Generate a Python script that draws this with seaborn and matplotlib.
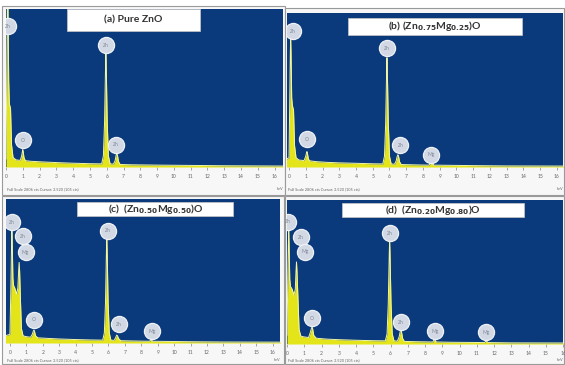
import numpy as np
import pandas as pd
import matplotlib
matplotlib.use("Agg")
import matplotlib.pyplot as plt
from matplotlib.patches import Rectangle
import seaborn as sns

# spectra: energy (keV) and intensity (% of panel height)
energy_a = [0.0, 0.04, 0.08, 0.1, 0.12, 0.16, 0.2, 0.27, 0.33, 0.42, 0.6, 0.85, 0.93, 0.98, 1.0, 1.02, 1.07,
            1.15, 1.5, 2.2, 3.0, 4.0, 5.0, 5.7, 5.8, 5.87, 5.93, 5.95, 5.97, 6.03, 6.1, 6.2, 6.4, 6.5, 6.56,
            6.6, 6.64, 6.7, 6.8, 7.5, 9.0, 11.0, 13.0, 16.5]
counts_a = [5, 50, 100, 118, 100, 55, 40, 37, 14, 6, 4.5, 4.2, 7, 10, 11, 10, 6,
            4, 3.6, 3.2, 2.8, 2.4, 2.1, 2.0, 7, 28, 64, 72, 64, 28, 7, 2.0, 1.8, 4, 7.5,
            8.5, 7.5, 3.5, 1.6, 1.4, 1.2, 1.0, 0.8, 0.6]

energy_b = [-0.2, 0.0, 0.04, 0.08, 0.1, 0.12, 0.16, 0.2, 0.27, 0.33, 0.42, 0.6, 0.9, 1.0, 1.05, 1.07, 1.09,
            1.16, 1.25, 1.6, 2.3, 3.0, 4.0, 5.0, 5.6, 5.7, 5.77, 5.83, 5.85, 5.87, 5.93, 6.0, 6.1, 6.3, 6.4,
            6.46, 6.5, 6.54, 6.6, 6.7, 7.5, 8.35, 8.47, 8.5, 8.53, 8.65, 9.5, 11.0, 13.0, 16.5]
counts_b = [5, 6, 40, 75, 84, 75, 45, 40, 37, 14, 6, 4.5, 4.2, 7, 9.5, 10, 9.5,
            5, 4, 3.5, 3.0, 2.7, 2.4, 2.1, 2.0, 7, 28, 63, 71, 63, 28, 7, 2.0, 1.8, 4,
            7, 8, 7, 3.5, 1.6, 1.4, 1.2, 2.5, 3, 2.5, 1.2, 1.1, 0.9, 0.7, 0.6]

energy_c = [-0.3, 0.0, 0.06, 0.1, 0.12, 0.14, 0.18, 0.22, 0.3, 0.4, 0.48, 0.53, 0.56, 0.59, 0.64, 0.7, 0.8,
            0.95, 1.25, 1.36, 1.43, 1.46, 1.49, 1.56, 1.7, 2.3, 3.0, 4.0, 5.0, 5.65, 5.75, 5.82, 5.88, 5.9,
            5.92, 5.98, 6.05, 6.15, 6.35, 6.45, 6.5, 6.55, 6.62, 6.75, 7.5, 8.5, 8.6, 8.7, 9.5, 11.0, 13.0, 16.5]
counts_c = [5, 6, 40, 70, 78, 70, 45, 40, 38, 34, 38, 50, 56, 50, 30, 10, 5,
            4.5, 4, 6, 8.5, 9, 8.5, 5, 3.6, 3.2, 2.8, 2.4, 2.1, 2.0, 7, 28, 65, 73,
            65, 28, 7, 2.0, 1.8, 4, 5.5, 5, 3, 1.6, 1.4, 1.2, 2.2, 1.2, 1.1, 0.9, 0.7, 0.6]

energy_d = [0.0, 0.04, 0.08, 0.1, 0.12, 0.16, 0.2, 0.3, 0.4, 0.48, 0.52, 0.55, 0.58, 0.64, 0.7, 0.8,
            0.95, 1.25, 1.35, 1.42, 1.45, 1.48, 1.55, 1.7, 2.3, 3.0, 4.0, 5.0, 5.7, 5.8, 5.87, 5.93, 5.95,
            5.97, 6.03, 6.1, 6.2, 6.4, 6.5, 6.57, 6.6, 6.63, 6.7, 6.8, 7.5, 8.45, 8.55, 8.65, 9.5, 11.45,
            11.55, 11.65, 13.0, 16.5]
counts_d = [6, 40, 70, 79, 70, 45, 40, 38, 34, 38, 50, 57, 50, 30, 10, 5.5,
            5, 4.5, 8, 11, 12, 11, 6, 4, 3.4, 3.0, 2.6, 2.3, 2.2, 7, 28, 64, 72,
            64, 28, 7, 2.2, 2.0, 5, 9, 10, 9, 4, 1.8, 1.6, 1.4, 3.2, 1.4, 1.2, 1.0,
            2.2, 1.0, 0.8, 0.7]

# peak labels: element, energy, height of the label circle
labels_a = ["Zn", "O", "Zn", "Zn"]
label_e_a = [0.1, 1.0, 5.95, 6.55]
label_h_a = [89, 17, 77, 14]

labels_b = ["Zn", "O", "Zn", "Zn", "Mg"]
label_e_b = [0.25, 1.05, 5.85, 6.65, 8.5]
label_h_b = [88, 18, 77, 14, 8]

labels_c = ["Zn", "Zn", "Mg", "O", "Zn", "Zn", "Mg"]
label_e_c = [0.1, 0.8, 0.95, 1.46, 5.95, 6.65, 8.65]
label_h_c = [84, 74, 63, 16, 78, 13, 8]

labels_d = ["Zn", "Zn", "Mg", "O", "Zn", "Zn", "Mg", "Mg"]
label_e_d = [0.05, 0.8, 1.05, 1.45, 5.95, 6.6, 8.6, 11.55]
label_h_d = [85, 74, 64, 18, 77, 15, 9, 8]

titles = ["(a) Pure ZnO",
          r"(b) (Zn$_{\mathbf{0.75}}$Mg$_{\mathbf{0.25}}$)O",
          r"(c)  (Zn$_{\mathbf{0.50}}$Mg$_{\mathbf{0.50}}$)O",
          r"(d)  (Zn$_{\mathbf{0.20}}$Mg$_{\mathbf{0.80}}$)O"]
footer = "Full Scale 2806 cts Cursor: 2.520 (105 cts)"

BLUE = "#0b3a7c"
YELLOW = "#e4e41a"
LINE = "#f2f6a8"

sns.set_theme(style="white")
plt.rcParams["font.family"] = ["Lato", "DejaVu Sans"]

W, H = 565, 365
fig = plt.figure(figsize=(W / 100, H / 100), dpi=100)
fig.patch.set_facecolor("white")


def px_rect(x0, y0, x1, y1):
    return [x0 / W, 1 - y1 / H, (x1 - x0) / W, (y1 - y0) / H]


def draw_panel(rect, xlim, energy, counts, labels, lab_e, lab_h, title, box, frame, foot_y):
    # light frame round the whole panel incl. tick strip
    fx0, fy0, fx1, fy1 = frame
    fig.patches.append(Rectangle((fx0 / W, 1 - fy1 / H), (fx1 - fx0) / W, (fy1 - fy0) / H,
                                 transform=fig.transFigure, facecolor="#f7f7f7",
                                 edgecolor="#9a9a9a", lw=0.8, zorder=-5))
    ax = fig.add_axes(px_rect(*rect))
    ax.set_zorder(1)
    ax.set_facecolor(BLUE)
    df = pd.DataFrame({"energy": energy, "counts": counts})
    ax.fill_between(df["energy"], df["counts"], color=YELLOW, lw=0, zorder=2)
    sns.lineplot(data=df, x="energy", y="counts", ax=ax, color=LINE, lw=0.7, zorder=3)
    ax.set_xlim(*xlim)
    ax.set_ylim(0, 100)
    ax.set_xticks(range(0, 17))
    ax.set_yticks([])
    ax.set_xlabel("")
    ax.set_ylabel("")
    ax.tick_params(axis="x", labelsize=3.6, colors="#666666", length=2, width=0.4,
                   pad=3, direction="out", bottom=True)
    for s in ax.spines.values():
        s.set_visible(False)
    ax.scatter(lab_e, lab_h, s=135, color="#d3d9e4", edgecolor="#eef1f6", lw=0.9,
               zorder=5, clip_on=True)
    for lab, e, h in zip(labels, lab_e, lab_h):
        if xlim[0] <= e <= xlim[1]:
            ax.text(e, h, lab, fontsize=3.6, color="#7d8796", ha="center", va="center", zorder=6)
    bx0, by0, bx1, by1 = box
    ax.add_patch(Rectangle((bx0, by0), bx1 - bx0, by1 - by0, transform=ax.transAxes,
                           facecolor="white", edgecolor="#c8c8c8", lw=0.5, zorder=7))
    ax.text((bx0 + bx1) / 2, (by0 + by1) / 2, title, transform=ax.transAxes, fontsize=7.5,
            fontweight="bold", color="#333333", ha="center", va="center", zorder=8)
    # footer line under the tick labels
    fig.text((rect[0] + 1) / W, 1 - foot_y / H, footer, fontsize=2.8, color="#666666",
             va="center")
    fig.text((rect[2] - 6) / W, 1 - foot_y / H, "keV", fontsize=2.8, color="#666666",
             va="center")
    return ax


draw_panel((6, 9, 283, 167), (0.06, 16.5), energy_a, counts_a, labels_a, label_e_a, label_h_a,
           titles[0], (0.22, 0.86, 0.70, 1.0), (2, 6, 285, 195), 189)
draw_panel((287, 13, 563, 167), (-0.12, 16.36), energy_b, counts_b, labels_b, label_e_b, label_h_b,
           titles[1], (0.22, 0.86, 0.85, 0.97), (285, 8, 564, 195), 189)
draw_panel((6, 199, 280, 343), (-0.24, 16.45), energy_c, counts_c, labels_c, label_e_c, label_h_c,
           titles[2], (0.26, 0.88, 0.83, 0.98), (2, 196, 284, 364), 360)
draw_panel((287, 200, 563, 344), (0.0, 15.86), energy_d, counts_d, labels_d, label_e_d, label_h_d,
           titles[3], (0.20, 0.88, 0.86, 0.98), (285, 196, 564, 364), 360)

fig.savefig("out.png", dpi=100)
